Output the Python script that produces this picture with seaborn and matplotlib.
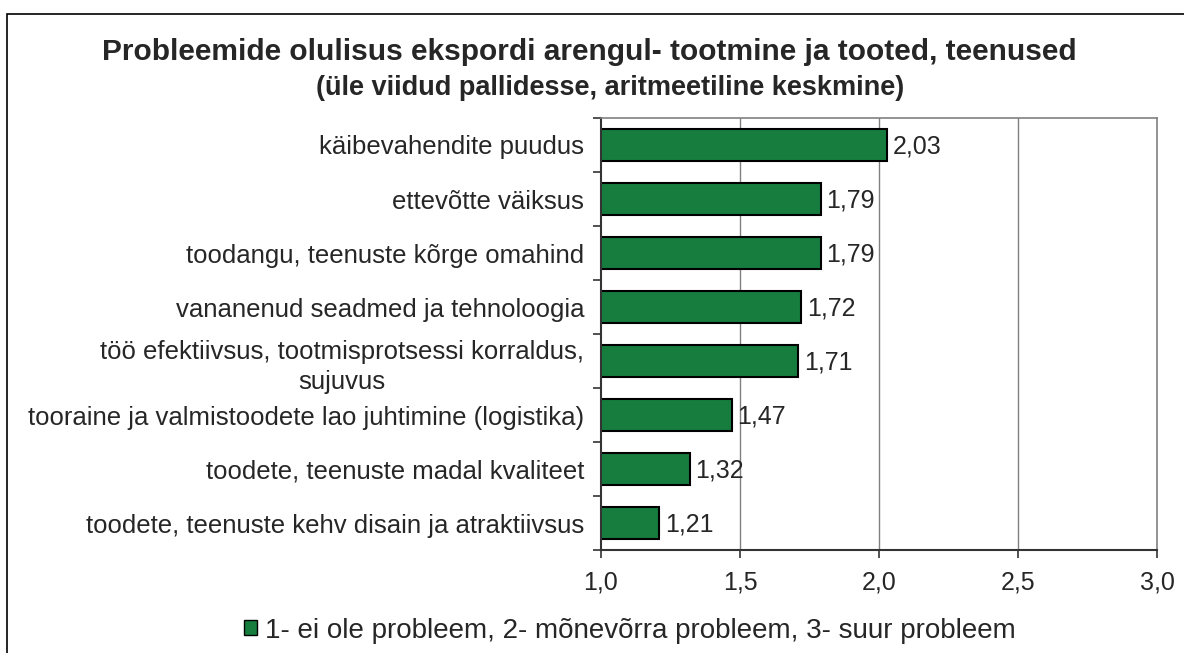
import matplotlib
matplotlib.use("Agg")
import matplotlib.pyplot as plt
import seaborn as sns
import pandas as pd
from matplotlib.patches import Patch, Rectangle

probleemid = [
    "käibevahendite puudus",
    "ettevõtte väiksus",
    "toodangu, teenuste kõrge omahind",
    "vananenud seadmed ja tehnoloogia",
    "töö efektiivsus, tootmisprotsessi korraldus,\nsujuvus",
    "tooraine ja valmistoodete lao juhtimine (logistika)",
    "toodete, teenuste madal kvaliteet",
    "toodete, teenuste kehv disain ja atraktiivsus",
]
keskmised = [2.03, 1.79, 1.79, 1.72, 1.71, 1.47, 1.32, 1.21]
x_ticks = [1.0, 1.5, 2.0, 2.5, 3.0]

df = pd.DataFrame({"probleem": probleemid, "keskmine": keskmised})

sns.set_style("white")
plt.rcParams["font.family"] = ["Liberation Sans", "DejaVu Sans"]

fig = plt.figure(figsize=(11.84, 6.53), dpi=100)
fig.patch.set_facecolor("white")
ax = fig.add_axes([0.5076, 0.1577, 0.4696, 0.6616])

roheline = "#177d3e"
sns.barplot(data=df, y="probleem", x="keskmine", orient="h", color=roheline,
            edgecolor="black", linewidth=1.5, width=0.6, saturation=1, ax=ax)

ax.set_xlim(1.0, 3.0)
ax.set_ylim(7.5, -0.5)

# vertikaalsed abijooned
for v in x_ticks[1:-1]:
    ax.axvline(v, color="#808080", lw=1, zorder=0)

ax.set_xticks(x_ticks)
ax.set_xticklabels([f"{v:.1f}".replace(".", ",") for v in x_ticks], fontsize=18)
ax.tick_params(axis="x", length=6, width=1.2, pad=9, direction="out", bottom=True, color="#333333")

ax.set_yticks(range(len(probleemid)))
ax.set_yticklabels(probleemid, fontsize=18.5, multialignment="center", linespacing=1.35)
ax.tick_params(axis="y", which="major", length=0, pad=12)
ax.set_yticks([i - 0.5 for i in range(len(probleemid) + 1)], minor=True)
ax.tick_params(axis="y", which="minor", length=6, width=1.2, direction="out", left=True, color="#333333")

ax.set_xlabel("")
ax.set_ylabel("")

for s in ["top", "right"]:
    ax.spines[s].set_color("#808080")
    ax.spines[s].set_linewidth(1.2)
for s in ["left", "bottom"]:
    ax.spines[s].set_color("#333333")
    ax.spines[s].set_linewidth(1.5)

# väärtuste sildid
for i, v in enumerate(keskmised):
    ax.text(v + 0.02, i + 0.03, f"{v:.2f}".replace(".", ","), va="center", ha="left", fontsize=18)

fig.text(0.498, 0.92, "Probleemide olulisus ekspordi arengul- tootmine ja tooted, teenused",
         ha="center", va="center", fontsize=21.5, fontweight="bold")
fig.text(0.515, 0.865, "(üle viidud pallidesse, aritmeetiline keskmine)",
         ha="center", va="center", fontsize=19.5, fontweight="bold")

fig.legend(handles=[Patch(facecolor=roheline, edgecolor="black", lw=1)],
           labels=["1- ei ole probleem, 2- mõnevõrra probleem, 3- suur probleem"],
           loc="center", bbox_to_anchor=(0.532, 0.034), frameon=False, fontsize=20,
           handlelength=0.45, handleheight=0.45, handletextpad=0.3)

# raam ümber joonise
fig.add_artist(Rectangle((0.006, -0.1), 1.1, 1.0786, transform=fig.transFigure,
                         fill=False, edgecolor="black", lw=1.2, clip_on=False))

fig.savefig("out.png", dpi=100)
